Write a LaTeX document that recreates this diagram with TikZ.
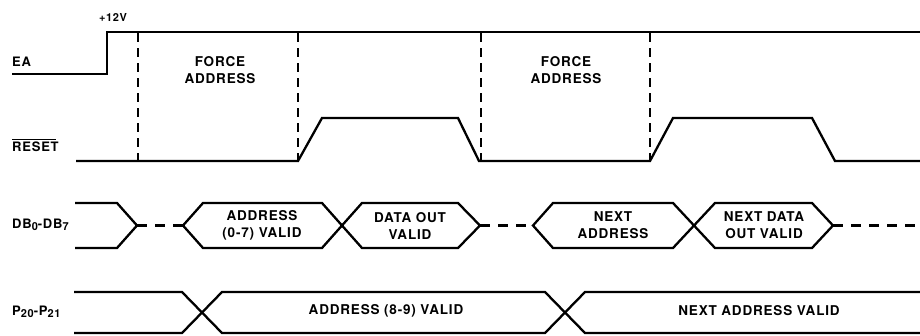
\documentclass[tikz,border=0pt]{standalone}
\usepackage{fontspec}
\setmainfont{TeX Gyre Heros}
\newfontfamily\spacedfont[LetterSpace=6]{TeX Gyre Heros}
\begin{document}
\begin{tikzpicture}[x=1pt,y=-1pt,
  sig/.style={line width=2.3pt, line join=miter, line cap=butt},
  guide/.style={line width=1.6pt, dash pattern=on 9pt off 6pt},
  busdash/.style={line width=2.3pt, dash pattern=on 10pt off 8pt},
  lbl/.style={font=\spacedfont\fontsize{13.5}{17}\selectfont\bfseries, align=center, inner sep=0pt},
  signame/.style={font=\spacedfont\fontsize{13}{15}\selectfont\bfseries, anchor=west, inner sep=0pt}]
\useasboundingbox (0,0) rectangle (920,335);

% EA
\draw[sig] (12,74) -- (107,74) -- (107,32) -- (920,32);
% RESET
\draw[sig] (76,161) -- (298,161) -- (322,118) -- (458,118) -- (479,161) -- (650,161)
  -- (673,118) -- (812,118) -- (835,161) -- (920,161);
% guides
\foreach \gx in {138,298,481,650} \draw[guide] (\gx,33) -- (\gx,160);

% DB bus
\draw[sig] (75,203) -- (117,203) -- (137,225.5) -- (117,248) -- (75,248);
\draw[busdash] (137,225.5) -- (183,225.5);
\draw[sig] (183,225.5) -- (203,203) -- (322,203) -- (342,225.5) -- (322,248) -- (203,248) -- cycle;
\draw[sig] (342,225.5) -- (362,203) -- (458,203) -- (480,225.5) -- (458,248) -- (362,248) -- cycle;
\draw[busdash] (480,225.5) -- (533,225.5);
\draw[sig] (533,225.5) -- (553,203) -- (673,203) -- (694,225.5) -- (673,248) -- (553,248) -- cycle;
\draw[sig] (694,225.5) -- (715,203) -- (812,203) -- (833,225.5) -- (812,248) -- (715,248) -- cycle;
\draw[busdash] (833,225.5) -- (920,225.5);

% P bus
\draw[sig] (74,292) -- (182,292) -- (222,333) -- (545,333) -- (585,292) -- (920,292);
\draw[sig] (74,333) -- (182,333) -- (222,292) -- (545,292) -- (585,333) -- (920,333);

% labels
\node[lbl, font=\spacedfont\fontsize{11}{12}\selectfont\bfseries] (v12) at (113,17) {+12V};
\node[signame] (ea) at (12,62) {EA};
\node[signame] (rst) at (12,147) {RESET};
\draw[line width=1.1pt] ([yshift=2.5pt]rst.north west) -- ([yshift=2.5pt,xshift=-3pt]rst.north east);
\node[signame] (db) at (12,225) {DB\raisebox{-2pt}{\fontsize{11}{11}\selectfont 0}-DB\raisebox{-2pt}{\fontsize{11}{11}\selectfont 7}};
\node[signame] (p2) at (12,312) {P\raisebox{-2pt}{\fontsize{11}{11}\selectfont 20}-P\raisebox{-2pt}{\fontsize{11}{11}\selectfont 21}};

\node[lbl] (fa1) at (220,70) {FORCE\\ADDRESS};
\node[lbl] (fa2) at (566,70) {FORCE\\ADDRESS};
\node[lbl] (a07) at (262,225.5) {ADDRESS\\(0-7) VALID};
\node[lbl] (dov) at (410,225.5) {DATA OUT\\VALID};
\node[lbl] (nad) at (613,225.5) {NEXT\\ADDRESS};
\node[lbl] (ndo) at (764,225.5) {NEXT DATA\\OUT VALID};
\node[lbl] (a89) at (386,311) {ADDRESS (8-9) VALID};
\node[lbl] (nav) at (759,311) {NEXT ADDRESS VALID};
\end{tikzpicture}
\end{document}
